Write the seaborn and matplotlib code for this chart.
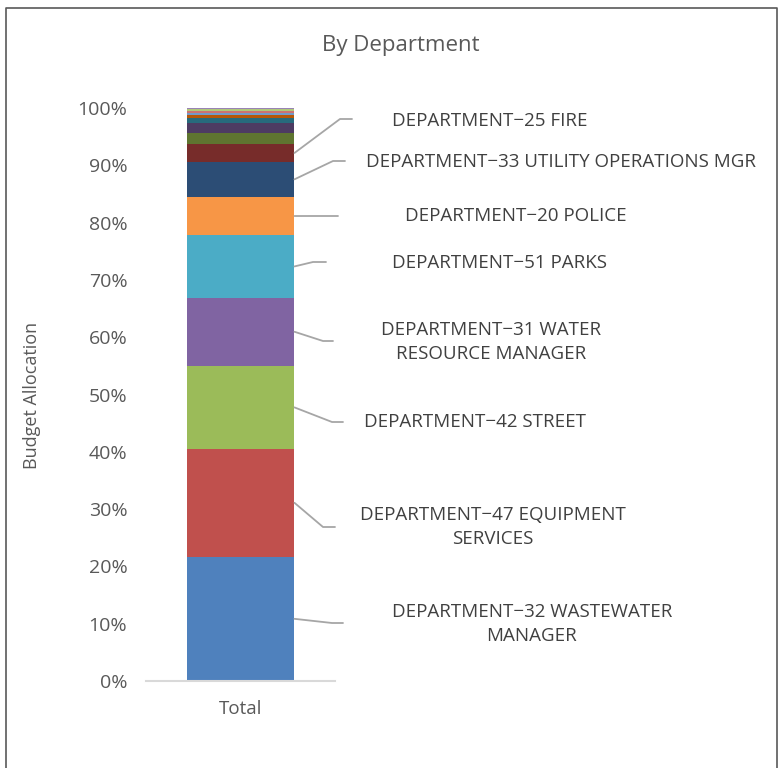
import pandas as pd
import matplotlib.pyplot as plt
import seaborn as sns

# share of total budget (%), bottom to top of the stack
departments = [
    "DEPARTMENT−32 WASTEWATER\nMANAGER",
    "DEPARTMENT−47 EQUIPMENT\nSERVICES",
    "DEPARTMENT−42 STREET",
    "DEPARTMENT−31 WATER\nRESOURCE MANAGER",
    "DEPARTMENT−51 PARKS",
    "DEPARTMENT−20 POLICE",
    "DEPARTMENT−33 UTILITY OPERATIONS MGR",
    "DEPARTMENT−25 FIRE",
    "", "", "", "", "", "", "", "",
]
shares = [21.7, 18.8, 14.5, 11.9, 10.9, 6.7, 6.1, 3.1,
          1.9, 1.8, 0.9, 0.5, 0.4, 0.3, 0.3, 0.2]
colors = ['#4F81BD', '#C0504D', '#9BBB59', '#8064A2', '#4BACC6', '#F79646',
          '#2C4D75', '#772C2A', '#5F7530', '#4D3B62', '#276A7C', '#B65708',
          '#729ACA', '#CD7371', '#AFC97A', '#9983B5']

df = pd.DataFrame({"Department": departments, "Share": shares, "color": colors})
df["Share"] = df["Share"] / df["Share"].sum()
df["top"] = df["Share"].cumsum()
df["mid"] = df["top"] - df["Share"] / 2
df["Category"] = "Total"

sns.set_theme(style="white")
plt.rcParams['font.family'] = ['Open Sans', 'DejaVu Sans']

W, H = 783, 768
fig = plt.figure(figsize=(W / 100, H / 100), dpi=100)
ax = fig.add_axes([146 / W, 1 - 681 / H, (335 - 146) / W, (681 - 108) / H])

# stacked bar: draw cumulative bars from the top down
for i in range(len(df) - 1, -1, -1):
    sns.barplot(data=df.iloc[[i]], x="Category", y="top", color=df["color"][i],
                width=0.571, saturation=1, linewidth=0, ax=ax)

ax.set_ylim(0, 1)
ax.set_xlim(-0.5, 0.5)
ax.set_yticks([i / 10 for i in range(11)])
ax.set_yticklabels([f"{i * 10}%" for i in range(11)])
ax.tick_params(axis="y", length=0, pad=13.5, labelsize=14, labelcolor="#595959")
ax.tick_params(axis="x", length=0, pad=14, labelsize=13.5, labelcolor="#595959")
ax.set_xlabel("")
ax.set_ylabel("")
for s in ["left", "right", "top"]:
    ax.spines[s].set_visible(False)
ax.spines["bottom"].set_color("#D9D9D9")
ax.spines["bottom"].set_linewidth(1.5)

fig.text(32 / W, 1 - 395 / H, "Budget Allocation", rotation=90, ha="center", va="center",
         fontsize=13, color="#595959")
fig.text(401 / W, 1 - 45 / H, "By Department", ha="center", va="center",
         fontsize=16, color="#595959")

# data labels with leader lines: (kink x, kink y, end x, text x, text y) in pixels
label_layout = [
    (332, 623, 343, 532, 624),
    (323, 527, 335, 493, 527),
    (332, 422, 343, 475, 422),
    (323, 341, 333, 491, 342),
    (313, 262, 326, 500, 263),
    (316, 216, 338, 516, 216),
    (333, 161, 345, 561, 162),
    (340, 119, 352, 490, 121),
]
to_fig = fig.transFigure.inverted()
for i, (kx, ky, ex, tx, ty) in enumerate(label_layout):
    sx, sy = ax.transData.transform((0.2855, df["mid"][i]))
    sx, sy = to_fig.transform((sx, sy))
    xs = [sx, kx / W, ex / W]
    ys = [sy, 1 - ky / H, 1 - ky / H]
    fig.add_artist(plt.Line2D(xs, ys, color="#A6A6A6", lw=1.3))
    fig.text(tx / W, 1 - ty / H, df["Department"][i], ha="center", va="center",
             fontsize=13.5, color="#404040", linespacing=1.45, multialignment="center")

# chart border
fig.add_artist(plt.Line2D([6 / W, 6 / W, 777 / W, 777 / W], [0, 1 - 8 / H, 1 - 8 / H, 0],
                          color="#595959", lw=1.2))

fig.savefig("out.png", dpi=100)
